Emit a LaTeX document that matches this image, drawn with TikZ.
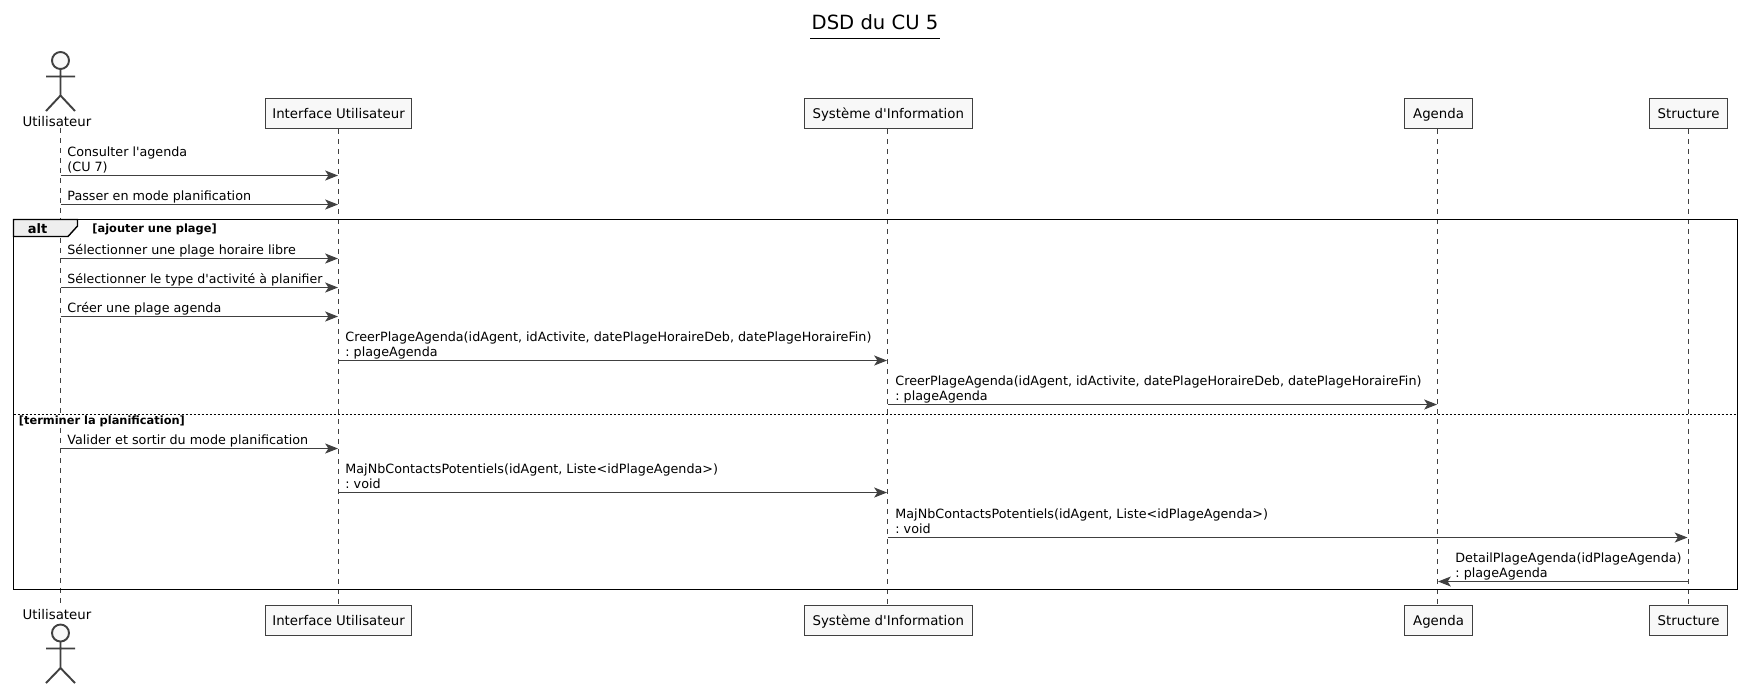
\documentclass[tikz,border=0pt]{standalone}
\usepackage{fontspec}
\newfontfamily\plainfam{DejaVu Sans}
\usetikzlibrary{arrows.meta}
\newcommand{\msgfont}{\plainfam\frenchspacing\fontsize{6.37}{7.5}\selectfont}
\newcommand{\boxfont}{\plainfam\fontsize{6.66}{8}\selectfont}
\tikzset{
  x=0.5pt,y=-0.5pt,
  lifeline/.style={draw=ink,line width=0.5pt,dash pattern=on 2.5pt off 2.5pt},
  msgline/.style={draw=ink,line width=0.55pt,-{Stealth[length=6.4pt,width=5pt,inset=1.6pt,fill=ink]}},
  msgtext/.style={anchor=south west,inner sep=0pt,align=left,font=\msgfont,text=black,text depth=1.5pt},
  partbox/.style={draw=ink,fill=boxfill,line width=0.55pt,minimum height=15pt,inner sep=0pt,anchor=north west,font=\boxfont,text=black,text height=5.6pt,text depth=0.3pt},
  actorlabel/.style={inner sep=0pt,anchor=base,font=\boxfont,text=black},
  actorbody/.style={draw=ink,line width=0.95pt},
  framebox/.style={draw=black,line width=0.7pt},
  guard/.style={inner sep=0pt,anchor=base west,font=\plainfam\fontsize{5.7}{6.8}\selectfont\bfseries,text=black},
}
\definecolor{ink}{HTML}{404040}
\definecolor{boxfill}{HTML}{F8F8F8}
\definecolor{tabfill}{HTML}{EEEEEE}
\begin{document}
\begin{tikzpicture}
\useasboundingbox (0,0) rectangle (1748,693);
\fill[white] (0,0) rectangle (1748,693);
% title
\node[inner sep=0pt,anchor=base,font=\plainfam\fontsize{9.8}{11.8}\selectfont] (title) at (875,29) {DSD du CU 5};
\draw[black,line width=0.5pt] (810,38.5) -- (940,38.5);
% participants, top
\node[partbox,minimum width=73pt] (i) at (265,98) {Interface Utilisateur};
\node[partbox,minimum width=83.75pt] (s) at (804,98) {Système d'Information};
\node[partbox,minimum width=34pt] (a) at (1404,98) {Agenda};
\node[partbox,minimum width=39pt] (st) at (1649,98) {Structure};
% participants, bottom
\node[partbox,minimum width=73pt] (ib) at (265,605) {Interface Utilisateur};
\node[partbox,minimum width=83.75pt] (sb) at (804,605) {Système d'Information};
\node[partbox,minimum width=34pt] (ab) at (1404,605) {Agenda};
\node[partbox,minimum width=39pt] (stb) at (1649,605) {Structure};
% actors
\coordinate (u) at (60.5,128);
\coordinate (ub) at (60.5,605);
\node[actorlabel] (ulabel) at (57,126) {Utilisateur};
\node[actorlabel] (ulabelb) at (57,619) {Utilisateur};
\draw[actorbody,fill=boxfill] (60.5,60.5) circle (8.5);
\draw[actorbody] (60.5,69) -- (60.5,95.5) (46,76.5) -- (75,76.5) (46,111) -- (60.5,95.5) -- (75,111);
\draw[actorbody,fill=boxfill] (60.5,633) circle (8.5);
\draw[actorbody] (60.5,641.5) -- (60.5,668) (46,648.5) -- (75,648.5) (46,683) -- (60.5,668) -- (75,683);
% lifelines
\draw[lifeline] (u) -- (ub);
\draw[lifeline] (i.south -| 338.5,0) -- (ib.north -| 338.5,0);
\draw[lifeline] (s.south -| 887.5,0) -- (sb.north -| 887.5,0);
\draw[lifeline] (a.south -| 1437.5,0) -- (ab.north -| 1437.5,0);
\draw[lifeline] (st.south -| 1688,0) -- (stb.north -| 1688,0);
% frame
\draw[framebox,fill=tabfill] (13.5,219.5) -- (77.5,219.5) -- (77.5,226) -- (68,236.5) -- (13.5,236.5) -- cycle;
\draw[framebox] (13.5,219.5) rectangle (1737.5,589.5);
\draw[black,line width=0.5pt,dash pattern=on 1pt off 1pt] (13.5,414) -- (1737.5,414);
\node[inner sep=0pt,anchor=base,font=\plainfam\fontsize{6.5}{7.8}\selectfont\bfseries,text=black] (alt) at (37.5,233) {alt};
\node[guard] (g1) at (92,232) {[ajouter une plage]};
\node[guard] (g2) at (18.5,424.5) {[terminer la planification]};
% messages
\node[msgtext] (m1) at (67,174.7) {Consulter l'agenda\\(CU 7)};
\draw[msgline] (u |- 0,175.5) -- (338,175.5);
\node[msgtext] (m2) at (67,203.7) {Passer en mode planification};
\draw[msgline] (u |- 0,204.5) -- (338,204.5);
\node[msgtext] (m3) at (67,257.7) {Sélectionner une plage horaire libre};
\draw[msgline] (u |- 0,258.5) -- (338,258.5);
\node[msgtext] (m4) at (67,286.7) {\fontsize{6.28}{7.5}\selectfont Sélectionner le type d'activité à planifier};
\draw[msgline] (u |- 0,287.5) -- (338,287.5);
\node[msgtext] (m5) at (67,315.7) {Créer une plage agenda};
\draw[msgline] (u |- 0,316.5) -- (338,316.5);
\node[msgtext] (m6) at (345,359.7) {CreerPlageAgenda(idAgent, idActivite, datePlageHoraireDeb, datePlageHoraireFin)\\: plageAgenda};
\draw[msgline] (338.5,360.5) -- (887,360.5);
\node[msgtext] (m7) at (895,403.7) {CreerPlageAgenda(idAgent, idActivite, datePlageHoraireDeb, datePlageHoraireFin)\\: plageAgenda};
\draw[msgline] (887.5,404.5) -- (1437,404.5);
\node[msgtext] (m8) at (67,447.7) {Valider et sortir du mode planification};
\draw[msgline] (u |- 0,448.5) -- (338,448.5);
\node[msgtext] (m9) at (345,491.7) {MajNbContactsPotentiels(idAgent, Liste<idPlageAgenda>)\\: void};
\draw[msgline] (338.5,492.5) -- (887,492.5);
\node[msgtext] (m10) at (895,536.7) {MajNbContactsPotentiels(idAgent, Liste<idPlageAgenda>)\\: void};
\draw[msgline] (887.5,537.5) -- (1687.5,537.5);
\node[msgtext] (m11) at (1455,580.7) {DetailPlageAgenda(idPlageAgenda)\\: plageAgenda};
\draw[msgline] (1688,581.5) -- (1438,581.5);
\end{tikzpicture}
\end{document}
